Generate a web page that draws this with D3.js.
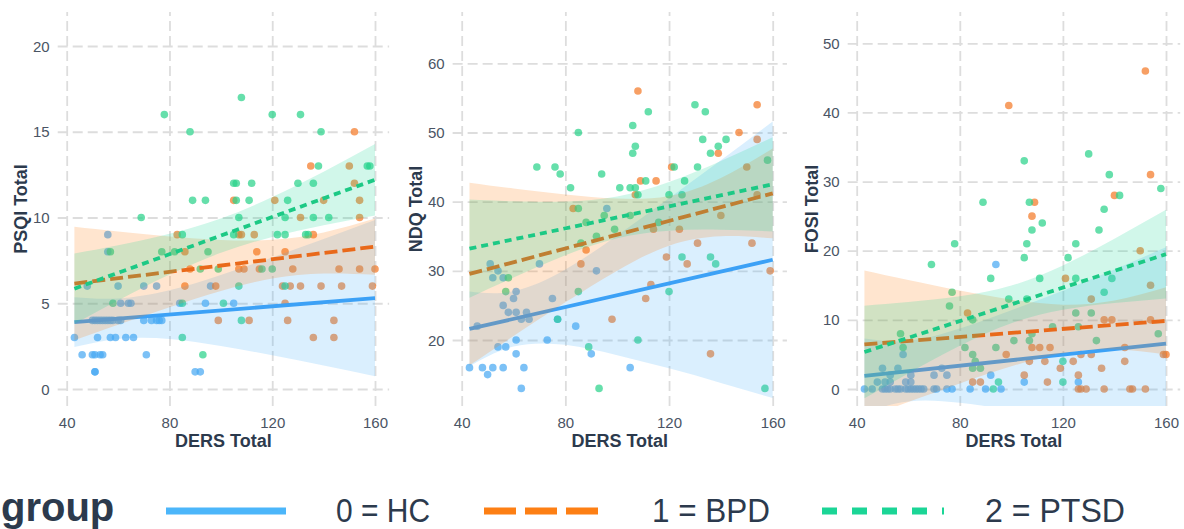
<!DOCTYPE html>
<html>
<head>
<meta charset="utf-8">
<script src="https://cdn.jsdelivr.net/npm/d3@7"></script>
<style>
  html, body { margin: 0; padding: 0; background: #ffffff; }
  svg { display: block; font-family: "Liberation Sans", Arial, Helvetica, sans-serif; }
</style>
</head>
<body>
<script>
// Group labels and colours
const groups = ["0 = HC", "1 = BPD", "2 = PTSD"];
const pointColors = ["#4aa9f2", "#f47a28", "#2bd28a"];
const bandColors = ["#45b1f9", "#ff7f11", "#1bd594"];
const lineColors = ["#3ca1f6", "#e9691a", "#1cc985"];
const legendColors = ["#4cb6fa", "#fd7f14", "#1bd596"];
const lineDashes = [null, "13,5", "7,5"];

// Shared x ticks (DERS Total)
const dersTicks = [40, 80, 120, 160];
// DERS values at which the confidence bands are given
const bandX = [43, 60, 80, 100, 120, 140, 160];
// Fitted line spans this DERS range
const fitRange = [43, 160];

// ---- PSQI Total vs DERS Total: [DERS, PSQI] ----
const psqiHC = [[56,9],[56,8],[48,6],[60,6],[70,6],[75,6],[96,6],[61,5],[64,5],[65,5],[84,5],[94,5],[105,5],
  [50,4],[51,4],[52,4],[53,4],[54,4],[55,4],[56,4],[57,4],[58,4],[60,4],[61,4],[70,4],[73,4],[75,4],[76,4],[77,4],
  [43,3],[52,3],[57,3],[59,3],[63,3],[66,3],[46,2],[50,2],[51,2],[53,2],[54,2],[71,2],[51,1],[51,1],[90,1],[92,1]];
const psqiBPD = [[152,15],[135,13],[150,13],[152,12],[105,11],[121,11],[140,11],[154,11],[131,10],[154,10],
  [83,9],[107,9],[108,9],[113,9],[136,9],[86,8],[114,8],[125,8],
  [88,7],[107,7],[109,7],[115,7],[128,7],[146,7],[154,7],[160,7],
  [86,6],[98,6],[124,6],[127,6],[131,6],[139,6],[147,6],[159,6],[125,5],
  [99,4],[111,4],[126,4],[144,4],[136,3],[144,3]];
const psqiPTSD = [[108,17],[78,16],[120,16],[131,16],[88,15],[139,15],[138,13],[157,13],[158,13],
  [105,12],[106,12],[112,12],[130,12],[136,12],[89,11],[94,11],[106,11],[111,11],[126,11],
  [69,10],[107,10],[125,10],[136,10],[142,10],[85,9],[105,9],[122,9],[125,9],[133,9],[134,9],
  [57,8],[77,8],[82,8],[95,8],[92,7],[99,7],[116,7],[120,7],[107,6],[125,6],
  [58,5],[85,5],[101,5],[108,4],[85,3],[93,2]];
const psqiFit = [[3.9, 5.3], [6.15, 8.3], [5.85, 12.2]];
const psqiLo = [[2.45,2.92,2.92,2.51,1.97,1.37,0.75],[2.84,3.74,4.77,5.72,6.44,6.73,6.66],[3.80,5.16,6.67,7.94,8.87,9.55,10.12]];
const psqiHi = [[5.35,5.28,5.76,6.65,7.67,8.75,9.85],[9.46,9.18,8.89,8.69,8.70,9.13,9.94],[7.90,8.38,9.05,9.94,11.19,12.67,14.28]];
const psqiTicks = [0, 5, 10, 15, 20];

// ---- NDQ Total vs DERS Total ----
const ndqHC = [[96,39],[51,31],[70,31],[54,30],[92,30],[52,29],[56,29],[61,27],[60,26],[75,26],[56,25],[58,24],[61,24],[65,24],
  [63,23],[66,23],[77,23],[46,22],[84,22],[61,20],[73,20],[54,19],[57,19],[61,18],[90,18],
  [43,16],[48,16],[52,16],[56,16],[64,16],[105,16],[50,15],[63,13]];
const ndqBPD = [[108,56],[154,54],[147,50],[154,49],[139,47],[121,45],[150,45],[109,43],[115,43],[107,41],[154,41],
  [83,39],[140,38],[114,36],[124,36],[131,34],[152,34],[88,33],[119,32],[86,31],[127,31],[159,30],
  [113,28],[111,26],[98,23],[136,18]];
const ndqPTSD = [[130,54],[112,53],[134,53],[106,51],[85,50],[133,49],[142,49],[107,48],[139,48],[106,47],[136,47],[158,46],
  [69,45],[76,45],[122,45],[131,45],[78,44],[94,44],[111,43],[126,43],[82,42],[101,42],[105,42],[107,42],
  [108,41],[120,41],[125,41],[85,39],[95,38],[105,38],[88,37],[116,37],[99,36],[92,35],[86,34],
  [125,32],[136,32],[138,31],[58,29],[57,27],[85,27],[120,27],[77,23],[108,20],[89,19],[93,13],[157,13]];
const ndqFit = [[21.6, 31.6], [29.55, 41.2], [33.2, 42.5]];
const ndqLo = [[16.2,19.05,19.3,17.8,15.9,13.8,11.6],[16.35,20.57,25.44,30.02,33.64,34.99,34.7],[26.1,29.05,32.26,34.71,35.81,35.94,35.69]];
const ndqHi = [[27.0,27.05,30.2,35.1,40.5,46.0,51.6],[42.75,41.91,41.04,40.44,40.8,43.43,47.7],[40.3,40.05,40.02,40.75,42.83,45.88,49.31]];
const ndqTicks = [20, 30, 40, 50, 60];

// ---- FOSI Total vs DERS Total ----
const fosiHC = [[43,0],[46,0],[50,0],[51,0],[52,0],[53,0],[55,0],[56,0],[57,0],[59,0],[60,0],[61,0],[62,0],[63,0],[64,0],[65,0],[66,0],
  [70,0],[71,0],[75,0],[77,0],[84,0],[90,0],[96,0],
  [48,1],[51,1],[53,1],[59,1],[61,1],[105,1],[126,1],[53,2],[61,2],[70,2],[75,2],[92,2],[50,3],[56,3],[73,3],[58,5],[94,18]];
const fosiBPD = [[152,46],[99,41],[154,31],[140,28],[109,27],[108,25],[150,20],[121,16],[154,15],[131,13],[83,11],
  [136,10],[139,10],[154,10],[108,6],[111,6],[115,6],[144,6],[98,5],[127,5],[131,5],[159,5],[160,5],
  [107,4],[113,4],[124,4],[144,4],[119,3],[135,3],[105,2],[126,2],[85,1],[88,1],[114,1],
  [126,0],[127,0],[129,0],[136,0],[146,0],[147,0],[152,0]];
const fosiPTSD = [[130,34],[105,33],[138,31],[158,29],[142,28],[89,27],[107,27],[136,26],[112,24],[108,23],[134,23],
  [78,21],[106,21],[125,21],[105,19],[122,19],[69,18],[92,16],[111,16],[125,16],[139,16],[77,14],[136,14],
  [99,13],[106,13],[76,12],[125,11],[131,11],[85,10],[116,9],[126,9],[57,8],[108,8],[157,8],
  [101,7],[107,7],[133,7],[58,6],[82,6],[94,6],[85,5],[86,4],[120,4],[85,3],[88,3],[95,1],[120,1],[93,0]];
const fosiFit = [[1.9, 6.55], [6.45, 9.85], [5.35, 19.5]];
const fosiLo = [[-3.5,-1.8,-2.0,-3.04,-4.29,-5.79,-7.4],[-4.25,-1.88,0.81,3.28,5.18,5.75,5.0],[-1.35,2.25,6.24,9.52,11.45,12.43,13.08]];
const fosiHi = [[7.3,6.96,8.74,11.38,14.21,17.29,20.5],[17.15,15.76,14.23,12.92,12.2,12.79,14.7],[12.05,12.57,13.4,14.96,17.87,21.73,25.92]];
const fosiTicks = [0, 10, 20, 30, 40, 50];

const W = 1184, H = 529;
const plotTop = 12, plotBottom = 406;
const titleColor = "#2c3a4d";
const tickColor = "#4a5464";
const gridColor = "#dddddd";

const panels = [
  { title: "PSQI Total", pts: [psqiHC, psqiBPD, psqiPTSD], fit: psqiFit, lo: psqiLo, hi: psqiHi, ticks: psqiTicks,
    yDom: [0, 20], yRange: [389, 46], xRange: [66.7, 375], titleX: 27 },
  { title: "NDQ Total", pts: [ndqHC, ndqBPD, ndqPTSD], fit: ndqFit, lo: ndqLo, hi: ndqHi, ticks: ndqTicks,
    yDom: [20, 60], yRange: [340, 63.3], xRange: [461.7, 772.7], titleX: 422 },
  { title: "FOSI Total", pts: [fosiHC, fosiBPD, fosiPTSD], fit: fosiFit, lo: fosiLo, hi: fosiHi, ticks: fosiTicks,
    yDom: [0, 50], yRange: [389, 43.3], xRange: [856.7, 1166], titleX: 817.5 }
];

const svg = d3.select("body").append("svg").attr("width", W).attr("height", H);
svg.append("rect").attr("width", W).attr("height", H).attr("fill", "#ffffff");

panels.forEach((p, pi) => {
  const x = d3.scaleLinear().domain([40, 160]).range(p.xRange);
  const y = d3.scaleLinear().domain(p.yDom).range(p.yRange);
  const left = x(36.5), right = x(165.5);
  const g = svg.append("g");

  // Horizontal grid and y tick labels
  const yAxis = d3.axisLeft(y).tickValues(p.ticks).tickSize(-(right - left)).tickPadding(8).tickFormat(d3.format("d"));
  const ya = g.append("g").attr("transform", `translate(${left},0)`).call(yAxis);
  // Vertical grid and x tick labels
  const xAxis = d3.axisBottom(x).tickValues(dersTicks).tickSize(-(plotBottom - plotTop)).tickPadding(11).tickFormat(d3.format("d"));
  const xa = g.append("g").attr("transform", `translate(0,${plotBottom})`).call(xAxis);
  [ya, xa].forEach(a => {
    a.select(".domain").remove();
    a.selectAll(".tick line").attr("stroke", gridColor).attr("stroke-width", 1.8).attr("stroke-dasharray", "10,5");
    a.selectAll(".tick text").attr("fill", tickColor).attr("font-size", 15);
  });
  ya.selectAll(".tick text").attr("dy", "0.34em");

  // Clip region of the panel
  const clipId = "clip" + pi;
  svg.append("clipPath").attr("id", clipId).append("rect")
    .attr("x", left).attr("y", plotTop).attr("width", right - left).attr("height", plotBottom - plotTop);
  const plot = g.append("g").attr("clip-path", `url(#${clipId})`);

  // Points
  p.pts.forEach((pts, gi) => {
    plot.append("g").selectAll("circle").data(pts).join("circle")
      .attr("cx", d => x(d[0])).attr("cy", d => y(d[1])).attr("r", 3.8)
      .attr("fill", pointColors[gi]).attr("fill-opacity", 0.72);
  });

  // Confidence band and fitted line for each group
  const area = d3.area().curve(d3.curveNatural)
    .x(d => x(d.x)).y0(d => y(d.lo)).y1(d => y(d.hi));
  const line = d3.line().x(d => x(d[0])).y(d => y(d[1]));
  groups.forEach((name, gi) => {
    const band = bandX.map((bx, k) => ({ x: bx, lo: p.lo[gi][k], hi: p.hi[gi][k] }));
    plot.append("path").datum(band).attr("d", area)
      .attr("fill", bandColors[gi]).attr("fill-opacity", 0.2);
    const fitPts = fitRange.map((fx, k) => [fx, p.fit[gi][k]]);
    const ln = plot.append("path").datum(fitPts).attr("d", line)
      .attr("fill", "none").attr("stroke", lineColors[gi]).attr("stroke-width", 3.8);
    if (lineDashes[gi]) ln.attr("stroke-dasharray", lineDashes[gi]);
  });

  // Axis titles
  g.append("text").attr("x", (left + right) / 2).attr("y", 447)
    .attr("text-anchor", "middle").attr("font-size", 18).attr("font-weight", "bold")
    .attr("fill", titleColor).text("DERS Total");
  g.append("text").attr("transform", `translate(${p.titleX},${(plotTop + plotBottom) / 2}) rotate(-90)`)
    .attr("text-anchor", "middle").attr("font-size", 18).attr("font-weight", "bold")
    .attr("fill", titleColor).text(p.title);
});

// Legend
const legend = svg.append("g");
legend.append("text").attr("x", 1).attr("y", 521).attr("font-size", 40).attr("font-weight", "bold")
  .attr("fill", titleColor).text("group");
const keyX = [[166, 286], [484, 600], [822, 944]];
const keyDash = [null, "32,9", "15,15"];
const labelX = [336, 652, 985];
const labelW = [94, 118, 140];
groups.forEach((name, gi) => {
  const k = legend.append("line").attr("x1", keyX[gi][0]).attr("x2", keyX[gi][1])
    .attr("y1", 511).attr("y2", 511).attr("stroke", legendColors[gi]).attr("stroke-width", 7);
  if (keyDash[gi]) k.attr("stroke-dasharray", keyDash[gi]);
  legend.append("text").attr("x", labelX[gi]).attr("y", 522).attr("font-size", 34)
    .attr("textLength", labelW[gi]).attr("lengthAdjust", "spacingAndGlyphs")
    .attr("fill", titleColor).text(name);
});
</script>
</body>
</html>
